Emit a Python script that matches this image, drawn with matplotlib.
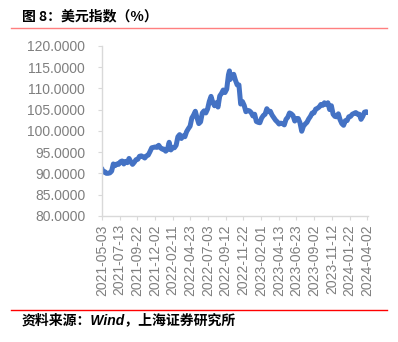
import pandas as pd
import matplotlib.pyplot as plt
import matplotlib.dates as mdates
from matplotlib.lines import Line2D
from matplotlib.ticker import FormatStrFormatter

# Weekly closes of the US dollar index
week_ends = pd.to_datetime([
    "2021-05-03", "2021-05-07", "2021-05-14", "2021-05-21", "2021-05-28", "2021-06-04", "2021-06-11",
    "2021-06-18", "2021-06-25", "2021-07-02", "2021-07-09", "2021-07-16", "2021-07-23",
    "2021-07-30", "2021-08-06", "2021-08-13", "2021-08-20", "2021-08-27", "2021-09-03",
    "2021-09-10", "2021-09-17", "2021-09-24", "2021-10-01", "2021-10-08", "2021-10-15",
    "2021-10-22", "2021-10-29", "2021-11-05", "2021-11-12", "2021-11-19", "2021-11-26",
    "2021-12-03", "2021-12-10", "2021-12-17", "2021-12-24", "2021-12-31",
    "2022-01-07", "2022-01-14", "2022-01-21", "2022-01-28", "2022-02-04", "2022-02-11",
    "2022-02-18", "2022-02-25", "2022-03-04", "2022-03-11", "2022-03-18", "2022-03-25",
    "2022-04-01", "2022-04-08", "2022-04-15", "2022-04-22", "2022-04-29", "2022-05-06",
    "2022-05-13", "2022-05-20", "2022-05-27", "2022-06-03", "2022-06-10", "2022-06-17",
    "2022-06-24", "2022-07-01", "2022-07-08", "2022-07-15", "2022-07-22", "2022-07-29",
    "2022-08-05", "2022-08-12", "2022-08-19", "2022-08-26", "2022-09-02", "2022-09-09",
    "2022-09-16", "2022-09-23", "2022-09-27", "2022-09-30", "2022-10-07", "2022-10-14",
    "2022-10-21", "2022-10-28", "2022-11-04", "2022-11-11", "2022-11-18", "2022-11-25",
    "2022-12-02", "2022-12-09", "2022-12-16", "2022-12-23", "2022-12-30",
    "2023-01-06", "2023-01-13", "2023-01-20", "2023-01-27", "2023-02-03", "2023-02-10",
    "2023-02-17", "2023-02-24", "2023-03-03", "2023-03-10", "2023-03-17", "2023-03-24",
    "2023-03-31", "2023-04-07", "2023-04-14", "2023-04-21", "2023-04-28", "2023-05-05",
    "2023-05-12", "2023-05-19", "2023-05-26", "2023-06-02", "2023-06-09", "2023-06-16",
    "2023-06-23", "2023-06-30", "2023-07-07", "2023-07-14", "2023-07-21", "2023-07-28",
    "2023-08-04", "2023-08-11", "2023-08-18", "2023-08-25", "2023-09-01", "2023-09-08",
    "2023-09-15", "2023-09-22", "2023-09-29", "2023-10-06", "2023-10-13", "2023-10-20",
    "2023-10-27", "2023-11-03", "2023-11-10", "2023-11-17", "2023-11-24", "2023-12-01",
    "2023-12-08", "2023-12-15", "2023-12-22", "2023-12-29",
    "2024-01-05", "2024-01-12", "2024-01-19", "2024-01-26", "2024-02-02", "2024-02-09",
    "2024-02-16", "2024-02-23", "2024-03-01", "2024-03-08", "2024-03-15", "2024-03-22",
    "2024-03-29", "2024-04-03",
])
dxy = [
    91.1, 90.3, 90.4, 90.0, 90.0, 90.1, 90.5,
    92.2, 91.8, 92.2, 92.1, 92.7, 92.9,
    92.2, 92.8, 92.5, 93.5, 92.7, 92.1,
    92.6, 93.2, 93.3, 94.0, 94.1, 93.9,
    93.6, 94.1, 94.3, 95.1, 96.0, 96.1,
    96.2, 96.1, 96.6, 96.0, 95.7,
    95.7, 95.2, 95.6, 97.3, 95.5, 96.1,
    96.0, 96.6, 98.6, 99.1, 98.2, 98.8,
    98.6, 99.8, 100.5, 101.1, 103.0, 103.7,
    104.6, 103.0, 101.7, 102.1, 104.2, 104.7,
    104.2, 105.1, 106.9, 108.1, 106.7, 105.9,
    106.6, 105.6, 108.2, 108.8, 109.6, 109.0,
    109.8, 113.2, 114.1, 112.1, 112.8, 113.3,
    111.9, 110.8, 110.8, 106.3, 106.9, 106.0,
    104.5, 104.8, 104.7, 104.3, 103.5,
    103.9, 102.2, 102.0, 101.9, 103.0, 103.6,
    103.9, 105.2, 104.5, 104.6, 103.7, 103.1,
    102.5, 102.1, 101.6, 101.8, 101.7, 101.4,
    102.7, 103.2, 104.2, 104.0, 103.6, 102.3,
    102.9, 102.9, 101.9, 99.9, 101.1, 101.6,
    102.0, 102.8, 103.4, 104.2, 104.2, 105.1,
    105.3, 105.6, 106.2, 106.0, 106.6, 106.2,
    106.6, 105.0, 105.9, 103.9, 103.4, 103.3,
    104.0, 102.6, 101.7, 101.3,
    102.4, 102.4, 103.3, 103.4, 103.9, 104.1,
    104.3, 103.9, 103.9, 102.7, 103.4, 104.4,
    104.5, 104.3,
]

# Axis tick dates (every 71 calendar days)
tick_dates = pd.date_range("2021-05-03", periods=16, freq="71D")

plt.rcParams['font.family'] = ['Liberation Sans', 'Noto Sans CJK SC', 'DejaVu Sans']

fig = plt.figure(figsize=(3.98, 3.42), dpi=100)
ax = fig.add_axes([0.256, 0.369, 0.668, 0.497])

ax.plot(week_ends, dxy, color='#4472C4', lw=3.6, solid_joinstyle='round', solid_capstyle='round')

ax.set_ylim(80, 120)
ax.set_yticks(range(80, 121, 5))
ax.yaxis.set_major_formatter(FormatStrFormatter('%.4f'))
ax.set_xlim(tick_dates[0], tick_dates[-1] + pd.Timedelta(days=2))
ax.set_xticks(tick_dates)
ax.xaxis.set_major_formatter(mdates.DateFormatter('%Y-%m-%d'))

for s in ['top', 'right']:
    ax.spines[s].set_visible(False)
for s in ['left', 'bottom']:
    ax.spines[s].set_color('#D9D9D9')
    ax.spines[s].set_linewidth(1)
ax.tick_params(axis='both', colors='#D9D9D9', labelcolor='#7F7F7F', labelsize=10, length=3)
ax.tick_params(axis='y', pad=9)
ax.tick_params(axis='x', pad=3, rotation=90)

# Heading, source note and red separator lines
fig.text(0.055, 0.952, '图 8：美元指数（%）', fontsize=10, fontweight='bold',
         family=['Noto Sans CJK SC'], va='center')
fig.add_artist(Line2D([0.028, 0.972], [0.917, 0.917], color='#FF7F7F', lw=1))
fig.add_artist(Line2D([0.028, 0.972], [0.094, 0.094], color='#FF0000', lw=1))
fig.text(0.055, 0.063, '资料来源：Wind，上海证券研究所', fontsize=10, fontweight='bold',
         style='italic', va='center')

fig.savefig('out.png', dpi=100)
